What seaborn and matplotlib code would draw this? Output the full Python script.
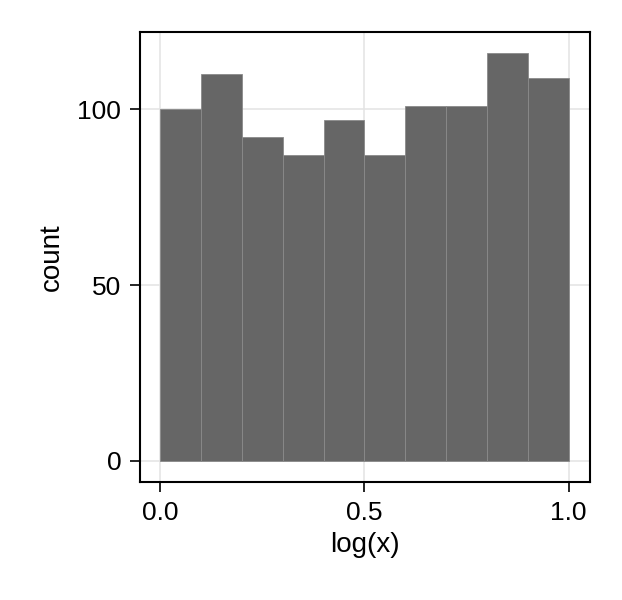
import numpy as np
import pandas as pd
import matplotlib
matplotlib.use("Agg")
import matplotlib.pyplot as plt
import seaborn as sns

# histogram bins and counts
bin_edges = [0.0, 0.1, 0.2, 0.3, 0.4, 0.5, 0.6, 0.7, 0.8, 0.9, 1.0]
counts = [100, 110, 92, 87, 97, 87, 101, 101, 116, 109]
x_ticks = [0.0, 0.5, 1.0]
x_tick_labels = ["0.0", "0.5", "1.0"]
y_ticks = [0, 50, 100]

centers = [(a + b) / 2 for a, b in zip(bin_edges[:-1], bin_edges[1:])]
df = pd.DataFrame({"logx": centers, "n": counts})

sns.set_style("ticks")
plt.rcParams["font.family"] = ["Liberation Sans", "DejaVu Sans"]
plt.rcParams["text.color"] = "black"
plt.rcParams["axes.labelcolor"] = "black"

fig = plt.figure(figsize=(6.22, 6.0), dpi=100)
ax = fig.add_axes([140 / 622, 118 / 600, 450 / 622, 450 / 600])

sns.histplot(data=df, x="logx", weights="n", bins=bin_edges, ax=ax,
             color="#666666", alpha=1.0, edgecolor="#8a8a8a", linewidth=0.6)

ax.set_xlim(-0.049, 1.052)
ax.set_ylim(-6.0, 122.0)
ax.set_xticks(x_ticks)
ax.set_xticklabels(x_tick_labels)
ax.set_yticks(y_ticks)

ax.grid(True, color="#e3e3e3", linewidth=1.1)
ax.set_axisbelow(True)
for s in ax.spines.values():
    s.set_visible(True)
    s.set_linewidth(1.5)
    s.set_color("black")

ax.tick_params(axis="both", direction="out", length=7.5, width=1.2,
               labelsize=19, pad=6, colors="black")
ax.set_xlabel("log(x)", fontsize=20, labelpad=5)
ax.set_ylabel("count", fontsize=20, labelpad=9)

fig.savefig("out.png", dpi=100)
plt.close(fig)
